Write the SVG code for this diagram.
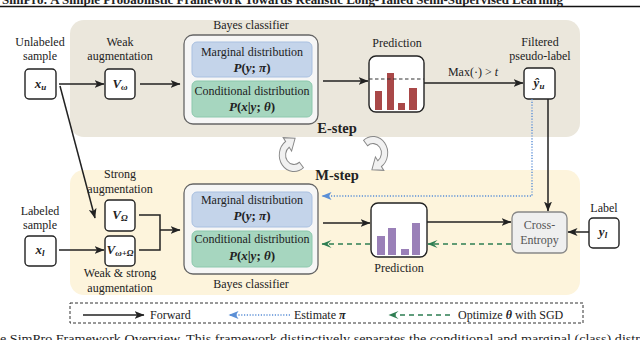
<svg xmlns="http://www.w3.org/2000/svg" width="640" height="340" viewBox="0 0 640 340">
<style>
text{font-family:"Liberation Serif","Times New Roman",serif;fill:#222;}
.lbl{font-size:12px;text-anchor:middle;}
.math{font-size:13px;text-anchor:middle;font-weight:bold;font-style:italic;}
.sub{font-size:9px;}
.box{fill:#fff;stroke:#222;stroke-width:1.4;}
.bayes{fill:#f6f6f6;stroke:#666;stroke-width:1.3;}
.marg{fill:#c4d4ea;stroke:#a9c0e0;stroke-width:1;}
.cond{fill:#a6d6bf;stroke:#8cc8ad;stroke-width:1;}
.fw{fill:none;stroke:#222;stroke-width:1.5;}
.est{fill:none;stroke:#5b8fd6;stroke-width:1.4;stroke-dasharray:1.2 1.6;}
.opt{fill:none;stroke:#2e7d52;stroke-width:1.6;stroke-dasharray:5 4;}
.red{fill:#a94848;}
.pur{fill:#9a80b8;}
.cyc{fill:#f1f1f1;stroke:#888;stroke-width:0.9;}
.step{font-size:14.5px;font-weight:bold;text-anchor:middle;}
</style>
<defs>
<marker id="aBlack" markerUnits="userSpaceOnUse" markerWidth="11" markerHeight="8" refX="9.5" refY="4" orient="auto"><path d="M0,0 L10,4 L0,8 L2.5,4 z" fill="#222"/></marker>
<marker id="aBlue" markerUnits="userSpaceOnUse" markerWidth="11" markerHeight="8" refX="9.5" refY="4" orient="auto"><path d="M0,0 L10,4 L0,8 L2.5,4 z" fill="#5b8fd6"/></marker>
<marker id="aGreen" markerUnits="userSpaceOnUse" markerWidth="11" markerHeight="8" refX="9.5" refY="4" orient="auto"><path d="M0,0 L10,4 L0,8 L4,4 z" fill="#2e7d52"/></marker>
<path id="cycle" d="M9 10.72 A14 14 0 1 1 -8.03 -11.47 L-10.33 -14.74 L1.06 -14.18 L-2.29 -3.28 L-4.59 -6.55 A8 8 0 1 0 5.14 6.13 Z"/>
</defs>
<rect width="640" height="340" fill="#fff"/>
<!-- cropped title and caption -->
<text x="2" y="4" font-size="12.5" font-weight="bold" textLength="561" lengthAdjust="spacingAndGlyphs">SimPro: A Simple Probabilistic Framework Towards Realistic Long-Tailed Semi-Supervised Learning</text>
<line x1="0" y1="6.5" x2="640" y2="6.5" stroke="#111" stroke-width="1.3"/>
<text x="0" y="343" font-size="13" textLength="640" lengthAdjust="spacingAndGlyphs">e SimPro Framework Overview. This framework distinctively separates the conditional and marginal (class) distr</text>

<!-- backgrounds -->
<g id="e-step">
<rect x="70" y="20" width="510" height="117" rx="14" fill="#ebe7dc"/>
<text class="step" x="337" y="133">E-step</text>
</g>
<g id="m-step">
<rect x="70" y="170" width="510" height="125" rx="14" fill="#fdf4dc"/>
<text class="step" x="337" y="180">M-step</text>
</g>
<g id="em-cycle">
<use href="#cycle" class="cyc" transform="translate(294 155) scale(1.05 1.18)"/>
<use href="#cycle" class="cyc" transform="translate(373 153) rotate(180) scale(1.05 1.18)"/>
</g>

<!-- E-step nodes -->
<g id="x-u">
<text class="lbl" x="40" y="46">Unlabeled</text>
<text class="lbl" x="40" y="60">sample</text>
<rect class="box" x="25" y="69" width="31" height="30" rx="4"/>
<text class="math" x="40.5" y="88">x<tspan class="sub" dy="2">u</tspan></text>
</g>
<g id="v-weak">
<text class="lbl" x="120" y="46">Weak</text>
<text class="lbl" x="120" y="60">augmentation</text>
<rect class="box" x="105" y="69" width="30" height="30" rx="4"/>
<text class="math" x="120" y="88">V<tspan class="sub" dy="2">ω</tspan></text>
</g>
<g id="bayes-e">
<text class="lbl" x="251" y="29">Bayes classifier</text>
<rect class="bayes" x="184" y="35" width="134" height="89" rx="9"/>
<rect class="marg" x="192" y="42" width="120" height="35" rx="5"/>
<rect class="cond" x="192" y="81" width="120" height="36" rx="5"/>
<text class="lbl" x="252" y="56">Marginal distribution</text>
<text class="math" x="252" y="72">P<tspan font-style="normal">(</tspan>y<tspan font-style="normal">; </tspan>π<tspan font-style="normal">)</tspan></text>
<text class="lbl" x="252" y="95">Conditional distribution</text>
<text class="math" x="252" y="111">P<tspan font-style="normal">(</tspan>x<tspan font-style="normal">|</tspan>y<tspan font-style="normal">; </tspan>θ<tspan font-style="normal">)</tspan></text>
</g>
<g id="pred-e">
<text class="lbl" x="397" y="47">Prediction</text>
<rect class="box" x="369" y="56" width="55" height="56" rx="7"/>
<rect class="red" x="375" y="91" width="7" height="19"/>
<rect class="red" x="387" y="73" width="7" height="37"/>
<rect class="red" x="398" y="103" width="7" height="7"/>
<rect class="red" x="409" y="88" width="8" height="22"/>
<line x1="369" y1="79" x2="424" y2="79" stroke="#333" stroke-width="1.2" stroke-dasharray="3.5 2.5"/>
</g>
<g id="y-hat">
<text class="lbl" x="540" y="46">Filtered</text>
<text class="lbl" x="540" y="60">pseudo-label</text>
<rect class="box" x="524" y="68" width="31" height="31" rx="4"/>
<text class="math" x="539" y="87">ŷ<tspan class="sub" dy="2">u</tspan></text>
</g>

<!-- M-step nodes -->
<g id="v-strong">
<text class="lbl" x="120" y="178">Strong</text>
<text class="lbl" x="120" y="193">augmentation</text>
<rect class="box" x="105" y="200" width="30" height="31" rx="4"/>
<text class="math" x="120" y="219">V<tspan class="sub" dy="2">Ω</tspan></text>
</g>
<g id="v-weak-strong">
<rect class="box" x="105" y="236" width="30" height="30" rx="4"/>
<text class="math" x="120" y="254">V<tspan class="sub" dy="2">ω+Ω</tspan></text>
<text class="lbl" x="120" y="277">Weak &amp; strong</text>
<text class="lbl" x="120" y="292">augmentation</text>
</g>
<g id="x-l">
<text class="lbl" x="40" y="215">Labeled</text>
<text class="lbl" x="40" y="229">sample</text>
<rect class="box" x="25" y="236" width="31" height="30" rx="4"/>
<text class="math" x="40" y="254">x<tspan class="sub" dy="2">l</tspan></text>
</g>
<g id="bayes-m">
<rect class="bayes" x="184" y="184" width="134" height="90" rx="9"/>
<rect class="marg" x="192" y="192" width="120" height="35" rx="5"/>
<rect class="cond" x="192" y="231" width="120" height="36" rx="5"/>
<text class="lbl" x="252" y="204">Marginal distribution</text>
<text class="math" x="252" y="220">P<tspan font-style="normal">(</tspan>y<tspan font-style="normal">; </tspan>π<tspan font-style="normal">)</tspan></text>
<text class="lbl" x="252" y="243">Conditional distribution</text>
<text class="math" x="252" y="260">P<tspan font-style="normal">(</tspan>x<tspan font-style="normal">|</tspan>y<tspan font-style="normal">; </tspan>θ<tspan font-style="normal">)</tspan></text>
<text class="lbl" x="251" y="288">Bayes classifier</text>
</g>
<g id="pred-m">
<rect class="box" x="371" y="203" width="56" height="54" rx="7"/>
<rect class="pur" x="377" y="236" width="8" height="19"/>
<rect class="pur" x="388" y="228" width="8" height="27"/>
<rect class="pur" x="401" y="249" width="8" height="6"/>
<rect class="pur" x="412" y="223" width="8" height="32"/>
<text class="lbl" x="399" y="272">Prediction</text>
</g>
<g id="cross-entropy">
<rect x="512" y="212" width="55" height="41" rx="6" fill="#efefef" stroke="#888" stroke-width="1.3"/>
<text class="lbl" x="539.5" y="229" style="fill:#555">Cross-</text>
<text class="lbl" x="539.5" y="244" style="fill:#555">Entropy</text>
</g>
<g id="y-l">
<text class="lbl" x="604" y="212">Label</text>
<rect class="box" x="589" y="218" width="30" height="30" rx="4"/>
<text class="math" x="603" y="236">y<tspan class="sub" dy="2">l</tspan></text>
</g>

<!-- connectors -->
<g id="connectors">
<path class="fw" d="M59,84 H104" marker-end="url(#aBlack)"/>
<path class="fw" d="M140,84 H180" marker-end="url(#aBlack)"/>
<path class="fw" d="M60,86 L95,218" marker-end="url(#aBlack)"/>
<path class="fw" d="M59,250 H104" marker-end="url(#aBlack)"/>
<path class="fw" d="M139,215 H160 V250 H139"/>
<path class="fw" d="M160,230 H180" marker-end="url(#aBlack)"/>
<path class="fw" d="M323,81 H368" marker-end="url(#aBlack)"/>
<path class="fw" d="M424,83 H523" marker-end="url(#aBlack)"/>
<text x="473" y="76" font-size="12" text-anchor="middle">Max(·) &gt; <tspan font-style="italic">t</tspan></text>
<path class="fw" d="M548,99 V211" marker-end="url(#aBlack)"/>
<path class="est" d="M532,99 V196 H322" marker-end="url(#aBlue)"/>
<path class="fw" d="M323,223 H370" marker-end="url(#aBlack)"/>
<path class="fw" d="M427,222 H511" marker-end="url(#aBlack)"/>
<path class="fw" d="M589,232 H568" marker-end="url(#aBlack)"/>
<path class="opt" d="M511,244 H428" marker-end="url(#aGreen)"/>
<path class="opt" d="M370,244 H322" marker-end="url(#aGreen)"/>
</g>

<!-- legend -->
<g id="legend">
<rect x="70" y="303" width="513" height="20" fill="none" stroke="#333" stroke-width="1" stroke-dasharray="3 2"/>
<path class="fw" d="M83,315 H144" marker-end="url(#aBlack)"/>
<text x="150" y="319" font-size="12">Forward</text>
<path class="est" d="M290,315 H229" marker-end="url(#aBlue)"/>
<text x="294" y="319" font-size="12">Estimate <tspan font-weight="bold" font-style="italic">π</tspan></text>
<path class="opt" d="M450,315 H389" marker-end="url(#aGreen)"/>
<text x="458" y="319" font-size="12">Optimize <tspan font-weight="bold" font-style="italic">θ</tspan> with SGD</text>
</g>
</svg>
